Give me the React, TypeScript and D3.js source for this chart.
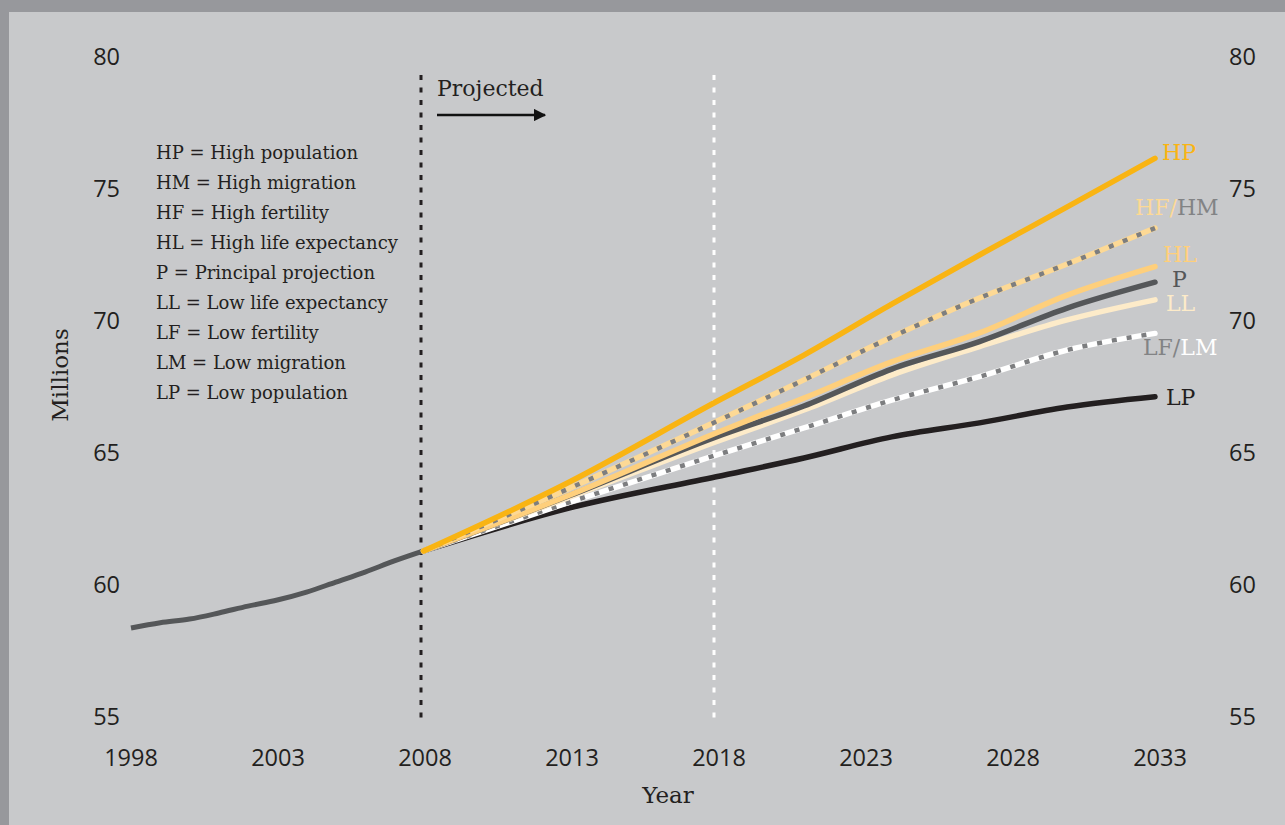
import * as d3 from 'd3';

const historyYears = [1998, 1999, 2000, 2001, 2002, 2003, 2004, 2005, 2006, 2007, 2008];
const historyValues = [58.37, 58.57, 58.71, 58.94, 59.2, 59.43, 59.73, 60.11, 60.49, 60.91, 61.29];

const projYears = [2008, 2013, 2018, 2021, 2024, 2027, 2030, 2033];
const hpValues = [61.29, 63.91, 66.94, 68.71, 70.64, 72.5, 74.32, 76.16];
const hfhmValues = [61.29, 63.67, 66.19, 67.77, 69.39, 70.87, 72.16, 73.52];
const hlValues = [61.29, 63.41, 65.76, 67.08, 68.45, 69.55, 70.98, 72.06];
const pValues = [61.29, 63.39, 65.61, 66.78, 68.18, 69.22, 70.49, 71.47];
const llValues = [61.29, 63.33, 65.43, 66.63, 67.95, 69.03, 70.04, 70.8];
const lflmValues = [61.29, 63.14, 64.92, 65.95, 67.0, 67.89, 68.9, 69.53];
const lpValues = [61.29, 62.92, 64.1, 64.81, 65.61, 66.14, 66.74, 67.13];

const xTicks = [1998, 2003, 2008, 2013, 2018, 2023, 2028, 2033];
const yTicks = [55, 60, 65, 70, 75, 80];

const legendLines = [
  'HP = High population',
  'HM = High migration',
  'HF = High fertility',
  'HL = High life expectancy',
  'P = Principal projection',
  'LL = Low life expectancy',
  'LF = Low fertility',
  'LM = Low migration',
  'LP = Low population',
];

const W = 1285;
const H = 825;
const sans = '"Open Sans", "Noto Sans", sans-serif';
const serif = '"DejaVu Serif", "Liberation Serif", serif';

const x = d3.scaleLinear().domain([1998, 2033]).range([131, 1155]);
const xLabel = d3.scaleLinear().domain([1998, 2033]).range([131, 1160]);
const y = d3.scaleLinear().domain([55, 80]).range([717, 57]);

const line = d3
  .line<[number, number]>()
  .x((d) => x(d[0]))
  .y((d) => y(d[1]))
  .curve(d3.curveMonotoneX);

const path = (years: number[], vals: number[]) =>
  line(years.map((yr, i) => [yr, vals[i]] as [number, number])) || '';

const series = [
  { vals: lpValues, color: '#231f20', dots: null },
  { vals: lflmValues, color: '#ffffff', dots: '#7d7e80' },
  { vals: llValues, color: '#fdebc9', dots: null },
  { vals: pValues, color: '#555759', dots: null },
  { vals: hlValues, color: '#fecf7c', dots: null },
  { vals: hfhmValues, color: '#fdd995', dots: '#7d7e80' },
  { vals: hpValues, color: '#f9b413', dots: null },
];

export default function App() {
  return (
    <svg width={W} height={H} style={{ position: 'absolute', left: 0, top: 0 }}>
      <defs>
        <marker id="arrow" viewBox="0 0 10 10" refX="9" refY="5" markerWidth="5" markerHeight="5" orient="auto">
          <path d="M0,0 L10,5 L0,10 z" fill="#111" />
        </marker>
      </defs>
      <rect x={0} y={0} width={W} height={H} fill="#97989c" />
      <rect x={9} y={12} width={W - 9} height={H - 12} fill="#c8c9cb" />

      {/* y ticks both sides */}
      {yTicks.map((t) => (
        <g key={t}>
          <text x={120} y={y(t)} dy="0.35em" textAnchor="end" fontFamily={sans} fontSize={23.5} fill="#231f20">
            {t}
          </text>
          <text x={1229} y={y(t)} dy="0.35em" textAnchor="start" fontFamily={sans} fontSize={23.5} fill="#231f20">
            {t}
          </text>
        </g>
      ))}
      {xTicks.map((t) => (
        <text key={t} x={xLabel(t)} y={758} dy="0.35em" textAnchor="middle" fontFamily={sans} fontSize={23.5} fill="#231f20">
          {t}
        </text>
      ))}
      <text x={668} y={795} dy="0.35em" textAnchor="middle" fontFamily={serif} fontSize={23} fill="#231f20">
        Year
      </text>
      <text transform="translate(60,375) rotate(-90)" dy="0.35em" textAnchor="middle" fontFamily={serif} fontSize={23} fill="#231f20">
        Millions
      </text>

      {/* vertical markers */}
      <line x1={421} x2={421} y1={75} y2={720} stroke="#231f20" strokeWidth={3} strokeDasharray="5 7.5" />
      <line x1={714} x2={714} y1={75} y2={720} stroke="#ffffff" strokeWidth={3} strokeDasharray="5 7.5" />

      <text x={437} y={88} dy="0.35em" fontFamily={serif} fontSize={22} fill="#231f20">
        Projected
      </text>
      <line x1={437} x2={545} y1={115} y2={115} stroke="#111" strokeWidth={2.5} markerEnd="url(#arrow)" />

      {/* legend */}
      {legendLines.map((s, i) => (
        <text key={s} x={156} y={153 + i * 30} dy="0.35em" fontFamily={serif} fontSize={18} fill="#231f20">
          {s}
        </text>
      ))}

      {/* history */}
      <path d={path(historyYears, historyValues)} fill="none" stroke="#555759" strokeWidth={5} />

      {/* projections */}
      {series.map((s, i) => (
        <g key={i}>
          <path d={path(projYears, s.vals)} fill="none" stroke={s.color} strokeWidth={5.5} strokeLinecap="round" />
          {s.dots && (
            <path d={path(projYears, s.vals)} fill="none" stroke={s.dots} strokeWidth={4.5} strokeDasharray="5 10" />
          )}
        </g>
      ))}

      {/* end labels */}
      <g fontFamily={serif} fontSize={22}>
        <text x={1162} y={152} dy="0.35em" fill="#f9b413">HP</text>
        <text x={1135} y={207} dy="0.35em">
          <tspan fill="#fdd995">HF/</tspan>
          <tspan fill="#828385">HM</tspan>
        </text>
        <text x={1163} y={254} dy="0.35em" fill="#fecf7c">HL</text>
        <text x={1172} y={279} dy="0.35em" fill="#555759">P</text>
        <text x={1166} y={303} dy="0.35em" fill="#fdebc9">LL</text>
        <text x={1143} y={347} dy="0.35em">
          <tspan fill="#828385">LF/</tspan>
          <tspan fill="#ffffff">LM</tspan>
        </text>
        <text x={1166} y={397} dy="0.35em" fill="#231f20">LP</text>
      </g>
    </svg>
  );
}
